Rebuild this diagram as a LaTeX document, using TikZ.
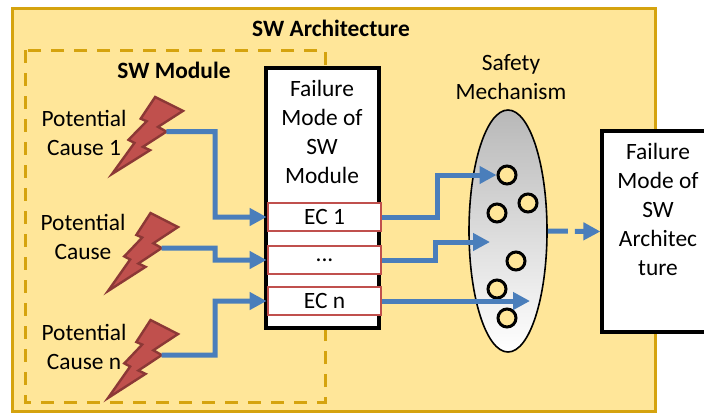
\documentclass[tikz,border=0pt]{standalone}
\usepackage{fontspec}
\setmainfont{Carlito}
\usetikzlibrary{shapes.geometric,arrows.meta}
\definecolor{archfill}{HTML}{FFE699}
\definecolor{archline}{HTML}{D5A30E}
\definecolor{boltfill}{HTML}{C0504D}
\definecolor{boltline}{HTML}{8C3836}
\definecolor{arrblue}{HTML}{4A7EBB}
\definecolor{ecred}{HTML}{C0504D}
\definecolor{smgray}{HTML}{B8B8B8}
\tikzset{
  txt/.style={font=\fontsize{11.7}{14.5}\selectfont, align=center, inner sep=0pt},
  boldtxt/.style={txt, font=\fontsize{11.7}{14.5}\selectfont\bfseries},
  whitebox/.style={draw=black, line width=1.6pt, fill=white, inner sep=0pt},
  ecbox/.style={draw=ecred, line width=1.4pt, fill=white, inner sep=0pt,
    minimum width=56.5pt, minimum height=14pt, font=\fontsize{11.7}{14.5}\selectfont},
  arr/.style={draw=arrblue, line width=2.5pt, -{Triangle[length=8.5pt,width=8.5pt]}},
  dot/.style={circle, draw=black, line width=1.5pt, fill=archfill, minimum size=9pt, inner sep=0pt},
  bolt/.pic={
    \draw[fill=boltfill, draw=boltline, line width=1.2pt, line join=miter]
      (0.6078,0) -- (0.4046,0.2815) -- (0.4884,0.3147) -- (0.2325,0.5559)
      -- (0.3163,0.5962) -- (0,1) -- (0.5365,0.6905) -- (0.4342,0.6475)
      -- (0.7675,0.4493) -- (0.6481,0.3881) -- (1,0.1801) -- cycle;
    \coordinate (-out) at (0.7675,0.4493);
  }
}
\begin{document}
\begin{tikzpicture}[x=0.5pt, y=-0.5pt]
\useasboundingbox (0,0) rectangle (704,414);
% SW Architecture
\draw[fill=archfill, draw=archline, line width=1.5pt] (12,8) rectangle (655,411);
\node[boldtxt] (archt) at (331,28) {SW Architecture};
% SW Module
\draw[draw=archline, line width=1.5pt, dash pattern=on 6.5pt off 5pt] (25,50) rectangle (325,402);
\node[boldtxt] (modt) at (174,70) {SW Module};
% Failure mode of module
\node[whitebox, minimum width=56.5pt, minimum height=130pt] (fm) at (322.5,198) {};
\node[txt] (fmt) at (322,131.5) {Failure\\Mode of\\SW\\Module};
\node[ecbox] (ec1) at (324.5,217) {EC 1};
\node[ecbox] (ec2) at (324.5,260) {...};
\node[ecbox] (ec3) at (324.5,301) {EC n};
% causes
\node[txt] (p1) at (84,132.5) {Potential\\Cause 1};
\node[txt] (p2) at (83,237) {Potential\\Cause};
\node[txt] (p3) at (84,346.5) {Potential\\Cause n};
\pic[xscale=71, yscale=77] (b1) at (112,97) {bolt};
\pic[xscale=70, yscale=78] (b2) at (108,213) {bolt};
\pic[xscale=70, yscale=78] (b3) at (108,320) {bolt};
\draw[arr] (b1-out) -- (215,131.6) |- (ec1.west);
\draw[arr] (b2-out) -- (215,248) |- (ec2.west);
\draw[arr] (b3-out) -- (215,355) |- (ec3.west);
% safety mechanism
\node[txt] (smt) at (511,77.5) {Safety\\Mechanism};
\node[ellipse, draw=black, line width=0.8pt, minimum width=39pt, minimum height=121pt,
  top color=smgray, middle color=smgray, bottom color=white, inner sep=0pt] (sm) at (508,231) {};
\node[dot] (c1) at (507,175) {};
\node[dot] (c2) at (528,203) {};
\node[dot] (c3) at (497,213) {};
\node[dot] (c4) at (516,261) {};
\node[dot] (c5) at (497,289) {};
\node[dot] (c6) at (507,318) {};
\coordinate (m2) at (490,242);
\coordinate (m3) at (530,301);
\draw[arr] (ec1.east) -- (437,217) |- (c1.west);
\draw[arr] (ec2.east) -- (435,260) |- (m2);
\draw[arr] (ec3.east) -- (m3);
% failure mode of architecture
\node[whitebox, minimum width=52pt, minimum height=100.5pt] (fa) at (654,231.5) {};
\node[txt] (fat) at (658,209.5) {Failure\\Mode of\\SW\\Architec\\ture};
\draw[arr, dash pattern=on 10pt off 3.5pt] (sm.east) -- (fa.west);
\end{tikzpicture}
\end{document}
